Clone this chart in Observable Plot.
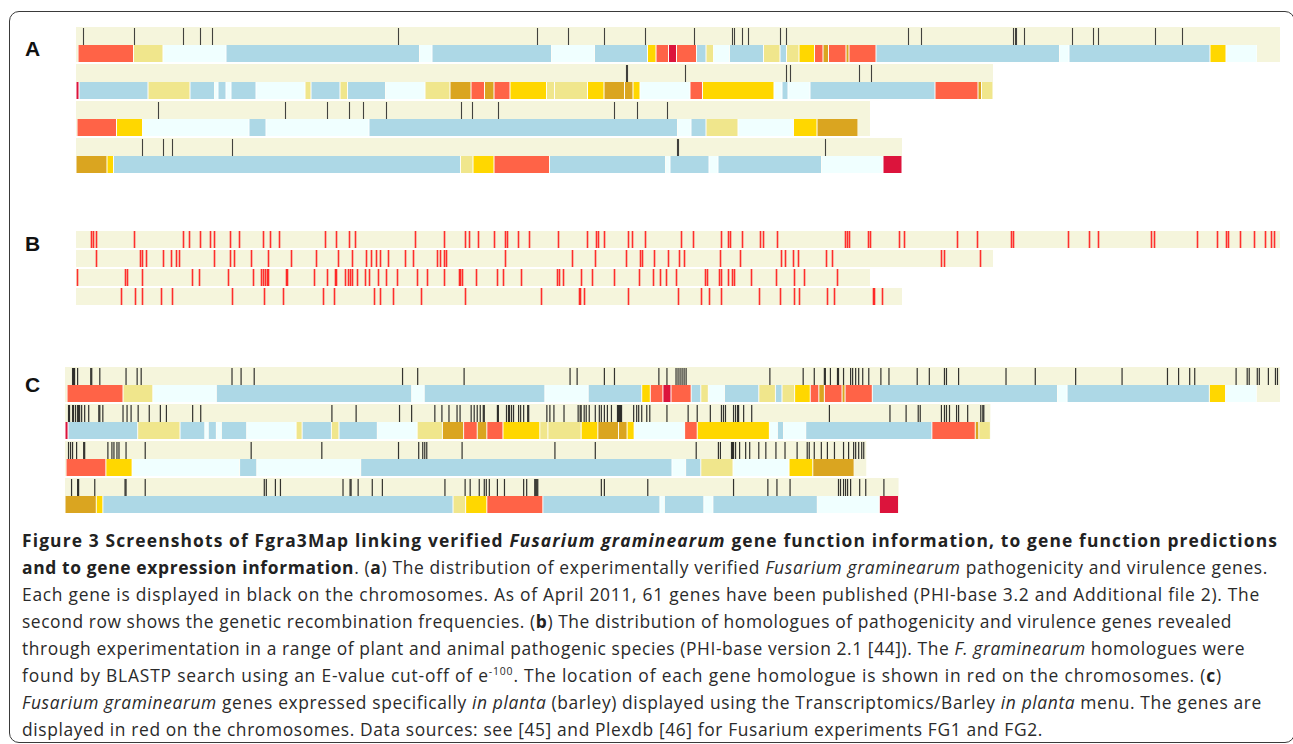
<!DOCTYPE html>
<html>
<head>
<meta charset="utf-8">
<script src="https://cdn.jsdelivr.net/npm/d3@7"></script>
<script src="https://cdn.jsdelivr.net/npm/@observablehq/plot@0.6"></script>
<style>
  html, body { margin: 0; padding: 0; background: #fff; }
  #fig { position: relative; width: 1293px; height: 744px; overflow: hidden; background: #fff; }
  .frame { position: absolute; left: 9px; top: 11px; width: 1286px; height: 732px; box-sizing: border-box;
           border: 1.5px solid #3a3a3a; border-radius: 10px; }
  .lbl { position: absolute; left: 25px; font: bold 21px "Liberation Sans", Arial, sans-serif; line-height: 21px; color: #111; }
  .panel { position: absolute; left: 0; }
  .panel svg { display: block; }
  #caption { position: absolute; left: 22px; top: 527px; font-family: "Open Sans", sans-serif; font-size: 17.4px;
             line-height: 27px; color: #2a2a2a; }
  #caption .ln { display: block; white-space: nowrap; width: max-content; }
  #caption b { font-weight: 700; color: #222; }
  #caption sup { font-size: 0.6em; line-height: 0; vertical-align: 0.7em; }
</style>
</head>
<body>
<div id="fig">
  <div class="frame"></div>
  <div class="lbl" style="top:38px">A</div>
  <div class="lbl" style="top:233px">B</div>
  <div class="lbl" style="top:374px">C</div>
  <div class="panel" id="panelA" style="top:26px"></div>
  <div class="panel" id="panelB" style="top:231px"></div>
  <div class="panel" id="panelC" style="top:365px"></div>
  <div id="caption">
    <span class="ln" data-w="1256"><b>Figure 3 Screenshots of Fgra3Map linking verified <i>Fusarium graminearum</i> gene function information, to gene function predictions</b></span>
    <span class="ln" data-w="1246"><b>and to gene expression information</b>. (<b>a</b>) The distribution of experimentally verified <i>Fusarium graminearum</i> pathogenicity and virulence genes.</span>
    <span class="ln" data-w="1238">Each gene is displayed in black on the chromosomes. As of April 2011, 61 genes have been published (PHI-base 3.2 and Additional file 2). The</span>
    <span class="ln" data-w="1210">second row shows the genetic recombination frequencies. (<b>b</b>) The distribution of homologues of pathogenicity and virulence genes revealed</span>
    <span class="ln" data-w="1223">through experimentation in a range of plant and animal pathogenic species (PHI-base version 2.1 [44]). The <i>F. graminearum</i> homologues were</span>
    <span class="ln" data-w="1200">found by BLASTP search using an E-value cut-off of e<sup>-100</sup>. The location of each gene homologue is shown in red on the chromosomes. (<b>c</b>)</span>
    <span class="ln" data-w="1240"><i>Fusarium graminearum</i> genes expressed specifically <i>in planta</i> (barley) displayed using the Transcriptomics/Barley <i>in planta</i> menu. The genes are</span>
    <span class="ln" data-w="1021">displayed in red on the chromosomes. Data sources: see [45] and Plexdb [46] for Fusarium experiments FG1 and FG2.</span>
  </div>
</div>
<script>
// ---------- DATA (positions in Mb along each chromosome) ----------
const chromosomeIds = [1, 2, 3, 4];
const chromosomeLengthMb = [12.04, 9.17, 7.94, 8.26];

// recombination-frequency classes (1 = lowest ... 7 = highest) and their colours
const rfClasses = [1, 2, 3, 4, 5, 6, 7];
const rfClassColors = ["azure", "lightblue", "khaki", "gold", "goldenrod", "tomato", "crimson"];

// recombination segments: [start Mb, end Mb, class]
const rfChr1 = [[0.02,0.575,6],[0.575,0.87,3],[0.87,1.50,1],[1.50,3.435,2],[3.435,3.56,1],[3.56,4.755,2],[4.755,5.185,1],[5.185,5.715,2],[5.715,5.80,4],[5.80,5.925,6],[5.925,6.005,7],[6.005,6.205,6],[6.205,6.30,2],[6.30,6.375,3],[6.375,6.535,1],[6.535,6.875,2],[6.875,7.04,3],[7.04,7.105,2],[7.105,7.23,3],[7.23,7.385,4],[7.385,7.47,6],[7.47,7.525,5],[7.525,7.70,6],[7.70,7.73,5],[7.73,8.00,6],[8.00,9.835,2],[9.835,9.93,1],[9.93,11.34,2],[11.34,11.50,4],[11.50,11.81,1]];
const rfChr2 = [[0,0.03,7],[0.03,0.72,2],[0.72,1.14,3],[1.14,1.385,2],[1.385,1.42,1],[1.42,1.50,2],[1.50,1.55,1],[1.55,1.80,2],[1.80,2.29,1],[2.29,2.35,3],[2.35,2.64,2],[2.64,2.715,3],[2.715,3.095,2],[3.095,3.49,1],[3.49,3.74,3],[3.74,3.95,5],[3.95,4.085,6],[4.085,4.18,5],[4.18,4.34,6],[4.34,4.705,4],[4.705,4.785,3],[4.785,5.115,3],[5.115,5.28,4],[5.28,5.485,5],[5.485,5.57,5],[5.57,5.64,4],[5.64,6.14,1],[6.14,6.265,6],[6.265,6.98,4],[6.98,7.06,1],[7.06,7.12,2],[7.12,7.34,1],[7.34,8.59,2],[8.59,9.02,6],[9.02,9.055,5],[9.055,9.17,3]];
const rfChr3 = [[0.01,0.405,6],[0.405,0.665,4],[0.665,1.73,1],[1.73,1.90,2],[1.90,2.93,1],[2.93,6.015,2],[6.015,6.15,1],[6.15,6.30,2],[6.30,6.62,3],[6.62,7.175,1],[7.175,7.41,4],[7.41,7.82,5]];
const rfChr4 = [[0,0.31,5],[0.31,0.375,4],[0.375,3.845,2],[3.845,3.97,3],[3.97,4.18,4],[4.18,4.735,6],[4.735,5.895,2],[5.895,5.94,1],[5.94,6.33,2],[6.33,6.42,1],[6.42,7.455,2],[7.455,8.07,1],[8.07,8.26,7]];

// (a) experimentally verified pathogenicity / virulence genes
const phiGenesChr1 = [0.07,0.58,1.07,1.24,1.36,3.22,4.61,4.92,5.28,5.69,6.18,6.56,6.58,6.66,6.72,7.04,7.10,8.32,8.45,9.37,9.39,9.40,9.48,9.96,10.17,10.22,10.79,11.06];
const phiGenesChr2 = [5.50,5.51,6.09,7.10,7.14,7.83,7.95];
const phiGenesChr3 = [0.82,2.09,2.51,2.73,2.87,3.10,3.85,3.96,4.22,5.38,5.61,5.91];
const phiGenesChr4 = [0.66,0.87,0.96,1.56,6.01,6.02,7.49];

// (b) homologues of PHI-base genes
const homologuesChr1 = [0.15,0.17,0.20,0.58,1.07,1.13,1.24,1.34,1.38,1.54,1.63,1.87,1.94,2.03,2.49,2.60,2.73,2.79,3.39,3.68,3.89,3.93,4.02,4.18,4.29,4.31,4.42,4.53,4.82,5.11,5.20,5.22,5.28,5.52,5.56,5.69,6.05,6.17,6.45,6.52,6.54,6.66,6.84,6.87,7.01,7.69,7.71,7.73,7.92,7.94,8.23,8.28,8.81,9.01,9.35,9.37,9.92,10.13,10.22,10.75,10.78,11.21,11.41,11.50,11.52,11.64,11.78,11.89,11.95,11.98];
const homologuesChr2 = [0.20,0.64,0.66,0.70,0.87,0.95,1.00,1.03,1.38,1.54,1.58,1.75,1.92,2.15,2.40,2.62,2.76,2.90,2.95,3.00,3.04,3.12,3.29,3.37,3.61,3.64,3.68,3.70,4.29,4.96,5.19,5.50,5.64,5.66,5.78,5.92,6.03,6.08,6.44,6.64,7.05,7.09,7.17,7.22,7.50,7.56,8.65,8.68,9.04];
const homologuesChr3 = [0.01,0.49,0.51,0.66,1.16,1.23,1.52,1.77,1.85,1.87,1.89,1.91,1.92,2.10,2.11,2.38,2.51,2.59,2.60,2.69,2.72,2.74,2.76,2.81,2.89,2.93,3.02,3.10,3.21,3.41,3.51,3.68,3.83,3.84,3.86,4.00,4.21,4.27,4.45,4.81,4.83,4.87,5.05,5.16,5.38,5.63,5.77,5.84,5.90,6.00,6.29,6.31,6.43,6.45,6.52,6.56,6.58,6.75,7.00,7.18,7.28,7.61];
const homologuesChr4 = [0.45,0.59,0.66,0.85,0.96,1.56,1.88,2.07,2.47,2.58,2.98,3.04,3.17,3.45,3.89,4.65,5.03,5.04,5.08,5.52,6.02,6.25,6.33,6.45,6.83,7.04,7.18,7.23,7.51,7.58,7.97,7.98,8.06];

// (c) genes expressed specifically in planta
const inPlantaChr1 = [0.07,0.08,0.09,0.12,0.25,0.26,0.34,0.60,0.71,0.75,1.65,1.74,1.87,3.34,3.49,3.95,5.00,5.07,5.34,5.44,5.88,5.96,6.05,6.07,6.09,6.11,6.13,6.15,6.98,7.31,7.42,7.52,7.53,7.58,7.65,7.66,7.71,7.78,7.80,7.83,7.86,7.90,7.96,8.08,8.16,8.44,8.56,8.71,8.73,8.85,9.32,9.61,10.01,10.47,10.92,11.03,11.14,11.19,11.60,11.71,11.73,11.81,11.83,11.92,11.99,12.01];
const inPlantaChr2 = [0.03,0.04,0.07,0.08,0.10,0.12,0.13,0.14,0.16,0.19,0.23,0.33,0.34,0.37,0.57,0.61,0.65,0.72,0.83,0.94,1.00,1.26,1.34,2.64,2.88,3.31,3.43,3.66,3.73,3.80,3.88,3.91,4.02,4.05,4.08,4.11,4.14,4.15,4.28,4.29,4.37,4.39,4.40,4.42,4.44,4.49,4.51,4.54,4.58,4.59,4.77,4.80,4.84,4.94,5.08,5.10,5.11,5.14,5.16,5.19,5.25,5.29,5.31,5.34,5.37,5.41,5.47,5.48,5.49,5.50,5.51,5.63,5.66,5.68,5.71,5.76,5.79,5.96,6.17,6.26,6.39,6.50,6.52,6.54,6.62,6.64,6.66,6.67,6.72,6.80,7.57,8.17,8.33,8.45,8.47,8.68,8.71,8.73,8.76,8.83,8.85,8.94,9.07,9.09,9.10];
const inPlantaChr3 = [0.03,0.05,0.07,0.11,0.18,0.19,0.42,0.46,0.48,0.51,0.53,0.60,0.79,1.84,2.54,3.30,3.50,3.54,3.56,3.58,3.93,4.85,5.25,6.25,6.47,6.49,6.60,6.61,6.62,6.64,6.68,6.74,6.78,6.87,6.94,7.04,7.13,7.25,7.35,7.37,7.42,7.49,7.55,7.62,7.71,7.76,7.81,7.83,7.86,7.89,7.91];
const inPlantaChr4 = [0.06,0.12,0.13,0.29,0.59,0.60,0.79,1.97,1.99,2.08,2.13,2.75,2.82,2.83,2.90,3.04,3.14,3.76,3.96,4.01,4.10,4.15,4.17,4.20,4.28,4.35,4.54,4.57,4.65,4.66,4.67,4.68,5.31,5.34,5.77,6.62,6.96,7.05,7.18,7.66,7.68,7.71,7.73,7.75,7.78,7.87,7.93,8.11];

// ---------- TABLES ----------
const chromosomes = chromosomeIds.map((chr, i) => ({chr, start: 0, end: chromosomeLengthMb[i]}));
const rf = [rfChr1, rfChr2, rfChr3, rfChr4].flatMap((segs, i) =>
  segs.map(([start, end, level]) => ({chr: chromosomeIds[i], start, end, level, track: "rf"})));
const toGenes = (lists) => lists.flatMap((list, i) => list.map(pos => ({chr: chromosomeIds[i], pos, track: "genes"})));
const phiGenes = toGenes([phiGenesChr1, phiGenesChr2, phiGenesChr3, phiGenesChr4]);
const homologues = toGenes([homologuesChr1, homologuesChr2, homologuesChr3, homologuesChr4]);
const inPlanta = toGenes([inPlantaChr1, inPlantaChr2, inPlantaChr3, inPlantaChr4]);

const maxLen = d3.max(chromosomeLengthMb);

function panel({genes, stroke, strokeWidth, strokeOpacity, withRF, marginLeft, height, gap}) {
  const marks = [Plot.barX(chromosomes, {x1: "start", x2: "end", fy: "chr", fill: "#F5F5DC"})];
  if (withRF) {
    marks.push(Plot.barX(rf, {x1: "start", x2: "end", y: "track", fy: "chr", fill: "white"}));
    marks.push(Plot.barX(rf, {x1: "start", x2: "end", y: "track", fy: "chr", fill: "level", insetLeft: 0.5, insetRight: 0.5}));
    marks.push(Plot.tickX(genes, {x: "pos", y: "track", fy: "chr", stroke, strokeWidth, strokeOpacity}));
  } else {
    marks.push(Plot.tickX(genes, {x: "pos", fy: "chr", stroke, strokeWidth, strokeOpacity}));
  }
  const opts = {
    width: 1293, height,
    marginLeft, marginRight: 13, marginTop: 0, marginBottom: 0,
    x: {domain: [0, maxLen], axis: null},
    fy: {domain: chromosomeIds, axis: null, paddingInner: gap, paddingOuter: 0, label: null},
    color: {type: "ordinal", domain: rfClasses, range: rfClassColors},
    style: {background: "transparent"},
    marks
  };
  if (withRF) opts.y = {type: "band", domain: ["genes", "rf"], axis: null, padding: 0, label: null};
  return Plot.plot(opts);
}

document.getElementById("panelA").append(panel({genes: phiGenes, stroke: "#222", strokeWidth: 1.1, strokeOpacity: 0.85, withRF: true, marginLeft: 76, height: 149, gap: 0.05}));
document.getElementById("panelB").append(panel({genes: homologues, stroke: "#ff1a1a", strokeWidth: 1.6, strokeOpacity: 0.9, withRF: false, marginLeft: 76, height: 75, gap: 0.08}));
document.getElementById("panelC").append(panel({genes: inPlanta, stroke: "#111", strokeWidth: 1.2, strokeOpacity: 0.85, withRF: true, marginLeft: 65, height: 150, gap: 0.05}));

// fit caption lines to the widths of the original text block
function fitCaption() {
  document.querySelectorAll("#caption .ln").forEach(el => {
    el.style.letterSpacing = "0px";
    const w = el.getBoundingClientRect().width;
    const target = +el.dataset.w;
    const n = el.textContent.length;
    el.style.letterSpacing = ((target - w) / n).toFixed(3) + "px";
  });
}
fitCaption();
if (document.fonts && document.fonts.ready) document.fonts.ready.then(fitCaption);
</script>
</body>
</html>
